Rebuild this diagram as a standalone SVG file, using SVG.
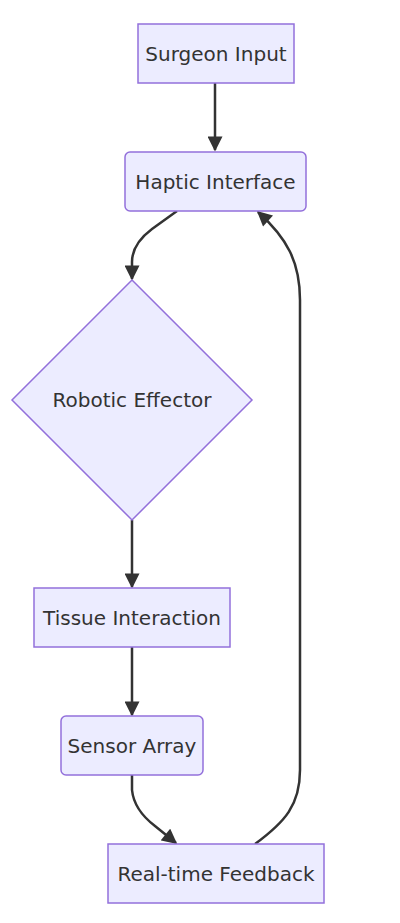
<svg xmlns="http://www.w3.org/2000/svg" width="400" height="923" viewBox="0 0 400 923">
<style>
.node rect,.node polygon{fill:#ECECFF;stroke:#9370DB;stroke-width:1.5px}
.node text{font-family:"DejaVu Sans",sans-serif;font-size:20px;fill:#333;text-anchor:middle;dominant-baseline:central}
.edge{fill:none;stroke:#333;stroke-width:2.5px}
</style>
<defs>
<marker id="arrow" viewBox="0 0 10 10" refX="9" refY="5" markerWidth="16" markerHeight="15" markerUnits="userSpaceOnUse" orient="auto">
<path d="M0,0 L10,5 L0,10 z" fill="#333"/>
</marker>
</defs>
<rect width="400" height="923" fill="#fff"/>
<g id="connectors">
<path class="edge" d="M215,83 L215,150" marker-end="url(#arrow)"/>
<path class="edge" d="M177,211 L152,229 Q132,244 132,262 L132,279" marker-end="url(#arrow)"/>
<path class="edge" d="M132,520 L132,587" marker-end="url(#arrow)"/>
<path class="edge" d="M132,647 L132,715" marker-end="url(#arrow)"/>
<path class="edge" d="M132,775 L132,790 Q134,810 155,826 L176,843" marker-end="url(#arrow)"/>
<path class="edge" d="M255,844 C285,822 300,805 300,770 L300,300 C300,262 287,238 258,212" marker-end="url(#arrow)"/>
</g>
<g id="surgeon-input" class="node"><rect x="138" y="24" width="156" height="59"/><text x="216" y="54">Surgeon Input</text></g>
<g id="haptic-interface" class="node"><rect x="125" y="152" width="181" height="59" rx="5"/><text x="215.5" y="182">Haptic Interface</text></g>
<g id="robotic-effector" class="node"><polygon points="132,280 252,400 132,520 12,400"/><text x="132" y="400">Robotic Effector</text></g>
<g id="tissue-interaction" class="node"><rect x="34" y="588" width="196" height="59"/><text x="132" y="618">Tissue Interaction</text></g>
<g id="sensor-array" class="node"><rect x="61" y="716" width="142" height="59" rx="5"/><text x="132" y="746">Sensor Array</text></g>
<g id="real-time-feedback" class="node"><rect x="108" y="844" width="216" height="59"/><text x="216" y="874">Real-time Feedback</text></g>
</svg>
